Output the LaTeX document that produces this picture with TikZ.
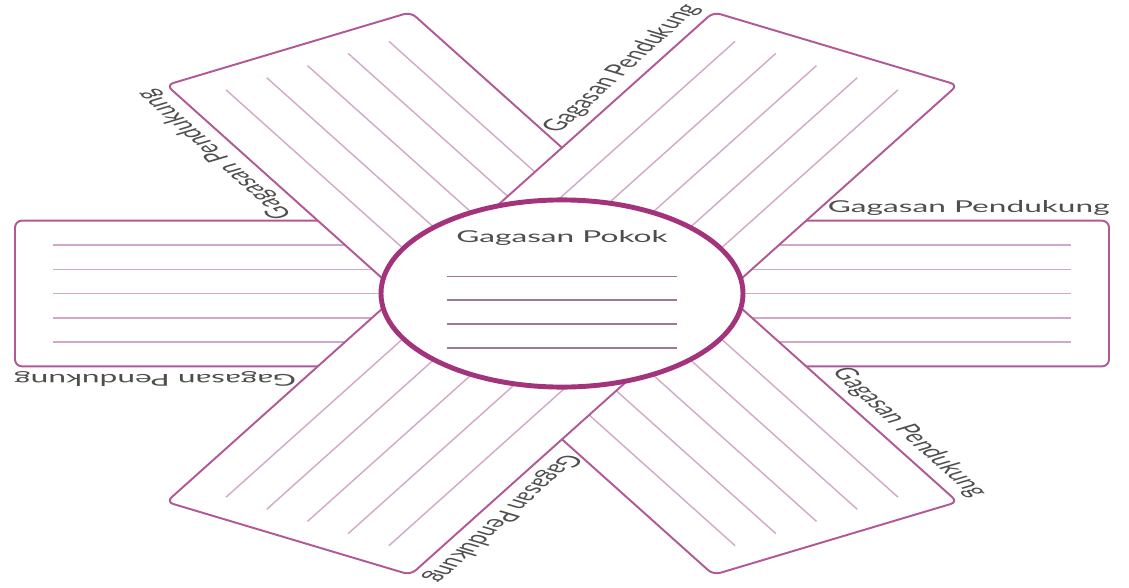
\documentclass[tikz,border=0pt]{standalone}
\usepackage{fontspec}
\setmainfont{Lato}
\definecolor{ggbox}{RGB}{178,88,150}
\definecolor{ggrule}{RGB}{210,168,200}
\definecolor{ggring}{RGB}{163,52,124}
\definecolor{ggline}{RGB}{160,118,155}
\definecolor{ggtext}{RGB}{78,78,78}

\begin{document}
\begin{tikzpicture}[x=0.2mm, y=0.2mm, yscale=0.517,
        band/.style={draw=ggbox, line width=1.1pt, fill=white, rounded corners=4pt},
        rule/.style={draw=ggrule, line width=0.8pt},
        ring/.style={draw=ggring, line width=2.8pt, fill=white},
        ringrule/.style={draw=ggline, line width=1pt},
        armlabel/.style={font=\fontsize{18}{21}\selectfont, text=ggtext, inner sep=0pt, anchor=south east, transform shape}
      ]
      \useasboundingbox (-562,-569.6) rectangle (567,567.7);

      % three crossing bands, horizontal one at the bottom
      \foreach \ang in {0,120,60} {
        \begin{scope}[rotate=\ang]
          \draw[band] (-547,-141) rectangle (547,141);
          \foreach \off in {-94,-47,0,47,94}
            \draw[rule] (-509,\off) -- (509,\off);
        \end{scope}
      }

      % main idea
      \draw[ring] (0,0) circle[radius=181];
      \node[font=\fontsize{18}{21}\selectfont, text=ggtext, transform shape] (pokok) at (0,108) {Gagasan Pokok};
      \foreach \v in {33,-13,-59,-105}
        \draw[ringrule] (-115,\v) -- (115,\v);

      % supporting ideas
      \foreach \k in {0,...,5} {
        \begin{scope}[rotate=60*\k]
          \node[armlabel] (pend\k) at (548,151) {Gagasan Pendukung};
        \end{scope}
      }
    \end{tikzpicture}
\end{document}
